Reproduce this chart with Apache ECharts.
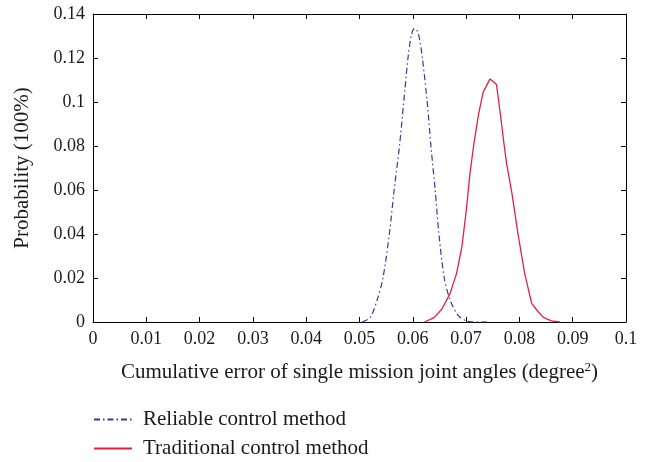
<!DOCTYPE html>
<html>
<head>
<meta charset="utf-8">
<script src="https://cdn.jsdelivr.net/npm/echarts@6/dist/echarts.min.js"></script>
<style>html,body{margin:0;padding:0;background:#fff}#c{width:648px;height:462px}</style>
</head>
<body>
<div id="c"></div>
<script>
const seriesNames = ['Reliable control method', 'Traditional control method'];
const reliableX = [0.0505,0.0520,0.0533,0.0544,0.0556,0.0565,0.0575,0.0583,0.0591,0.0597,0.0603,0.0609,0.0613,0.0618,0.0627,0.0634,0.0642,0.0649,0.0659,0.0670,0.0685,0.0700,0.0715,0.0740];
const reliableY = [0,0.002,0.010,0.020,0.040,0.060,0.080,0.100,0.120,0.130,0.1335,0.132,0.128,0.120,0.100,0.080,0.060,0.040,0.020,0.010,0.003,0.0005,0,0];
const traditionalX = [0.0622,0.0640,0.0655,0.0670,0.0682,0.0692,0.0700,0.0707,0.0714,0.0723,0.0732,0.0745,0.0757,0.0764,0.0770,0.0776,0.0786,0.0798,0.0810,0.0823,0.0834,0.0845,0.0860,0.0876];
const traditionalY = [0,0.002,0.006,0.013,0.022,0.034,0.050,0.067,0.080,0.094,0.1045,0.1105,0.108,0.095,0.083,0.072,0.0585,0.039,0.022,0.0085,0.005,0.0021,0.0005,0];
const xTicks = {min: 0, max: 0.1, interval: 0.01};
const yTicks = {min: 0, max: 0.14, interval: 0.02};

const font = 'Liberation Serif';
const txt = '#1a1a1a';
const zip = (a, b) => a.map((v, i) => [v, b[i]]);

const axisCommon = {
  type: 'value',
  axisLine: {show: true, onZero: false, lineStyle: {color: '#000', width: 1}},
  axisTick: {show: true, inside: true, length: 5, lineStyle: {color: '#000', width: 1}},
  splitLine: {show: false},
};

const legendCommon = {
  orient: 'horizontal', left: 93, padding: 0,
  itemWidth: 38, itemHeight: 14,
  itemStyle: {opacity: 0},
  textStyle: {fontFamily: font, fontSize: 21, color: txt, padding: [0, 0, 0, 6]}
};

const chart = echarts.init(document.getElementById('c'));
chart.setOption({
  animation: false,
  backgroundColor: '#fff',
  grid: {left: 93, right: 22, top: 14, bottom: 140, containLabel: false},
  legend: [
    Object.assign({}, legendCommon, {top: 409, data: [seriesNames[0]]}),
    Object.assign({}, legendCommon, {top: 438, data: [seriesNames[1]]})
  ],
  xAxis: [
    Object.assign({}, axisCommon, {
      position: 'bottom', min: xTicks.min, max: xTicks.max, interval: xTicks.interval,
      axisLabel: {fontFamily: font, fontSize: 18, color: txt, margin: 8},
      name: '{a|Cumulative error of single mission joint angles (degree}{b|2}{a|)}',
      nameLocation: 'middle', nameGap: 39,
      nameTextStyle: {rich: {
        a: {fontFamily: font, fontSize: 21, color: txt, verticalAlign: 'bottom'},
        b: {fontFamily: font, fontSize: 13, color: txt, verticalAlign: 'bottom', padding: [0, 0, 9, 0]}
      }}
    }),
    Object.assign({}, axisCommon, {
      position: 'top', min: xTicks.min, max: xTicks.max, interval: xTicks.interval,
      axisLabel: {show: false}
    })
  ],
  yAxis: [
    Object.assign({}, axisCommon, {
      position: 'left', min: yTicks.min, max: yTicks.max, interval: yTicks.interval,
      axisLabel: {fontFamily: font, fontSize: 18, color: txt, margin: 8},
      name: 'Probability (100%)', nameLocation: 'middle', nameGap: 60,
      nameTextStyle: {fontFamily: font, fontSize: 21, color: txt}
    }),
    Object.assign({}, axisCommon, {
      position: 'right', min: yTicks.min, max: yTicks.max, interval: yTicks.interval,
      axisLabel: {show: false}
    })
  ],
  series: [
    {
      name: seriesNames[0], type: 'line', xAxisIndex: 0, yAxisIndex: 0,
      data: zip(reliableX, reliableY), smooth: 0.3, symbol: 'none',
      lineStyle: {color: '#2e3d9a', width: 1.2, type: [6, 3, 1.5, 3]},
      itemStyle: {color: '#2e3d9a'}
    },
    {
      name: seriesNames[1], type: 'line', xAxisIndex: 0, yAxisIndex: 0,
      data: zip(traditionalX, traditionalY), smooth: false, symbol: 'none',
      lineStyle: {color: '#e3203f', width: 1.3, type: 'solid'},
      itemStyle: {color: '#e3203f'}
    }
  ]
});
</script>
</body>
</html>
